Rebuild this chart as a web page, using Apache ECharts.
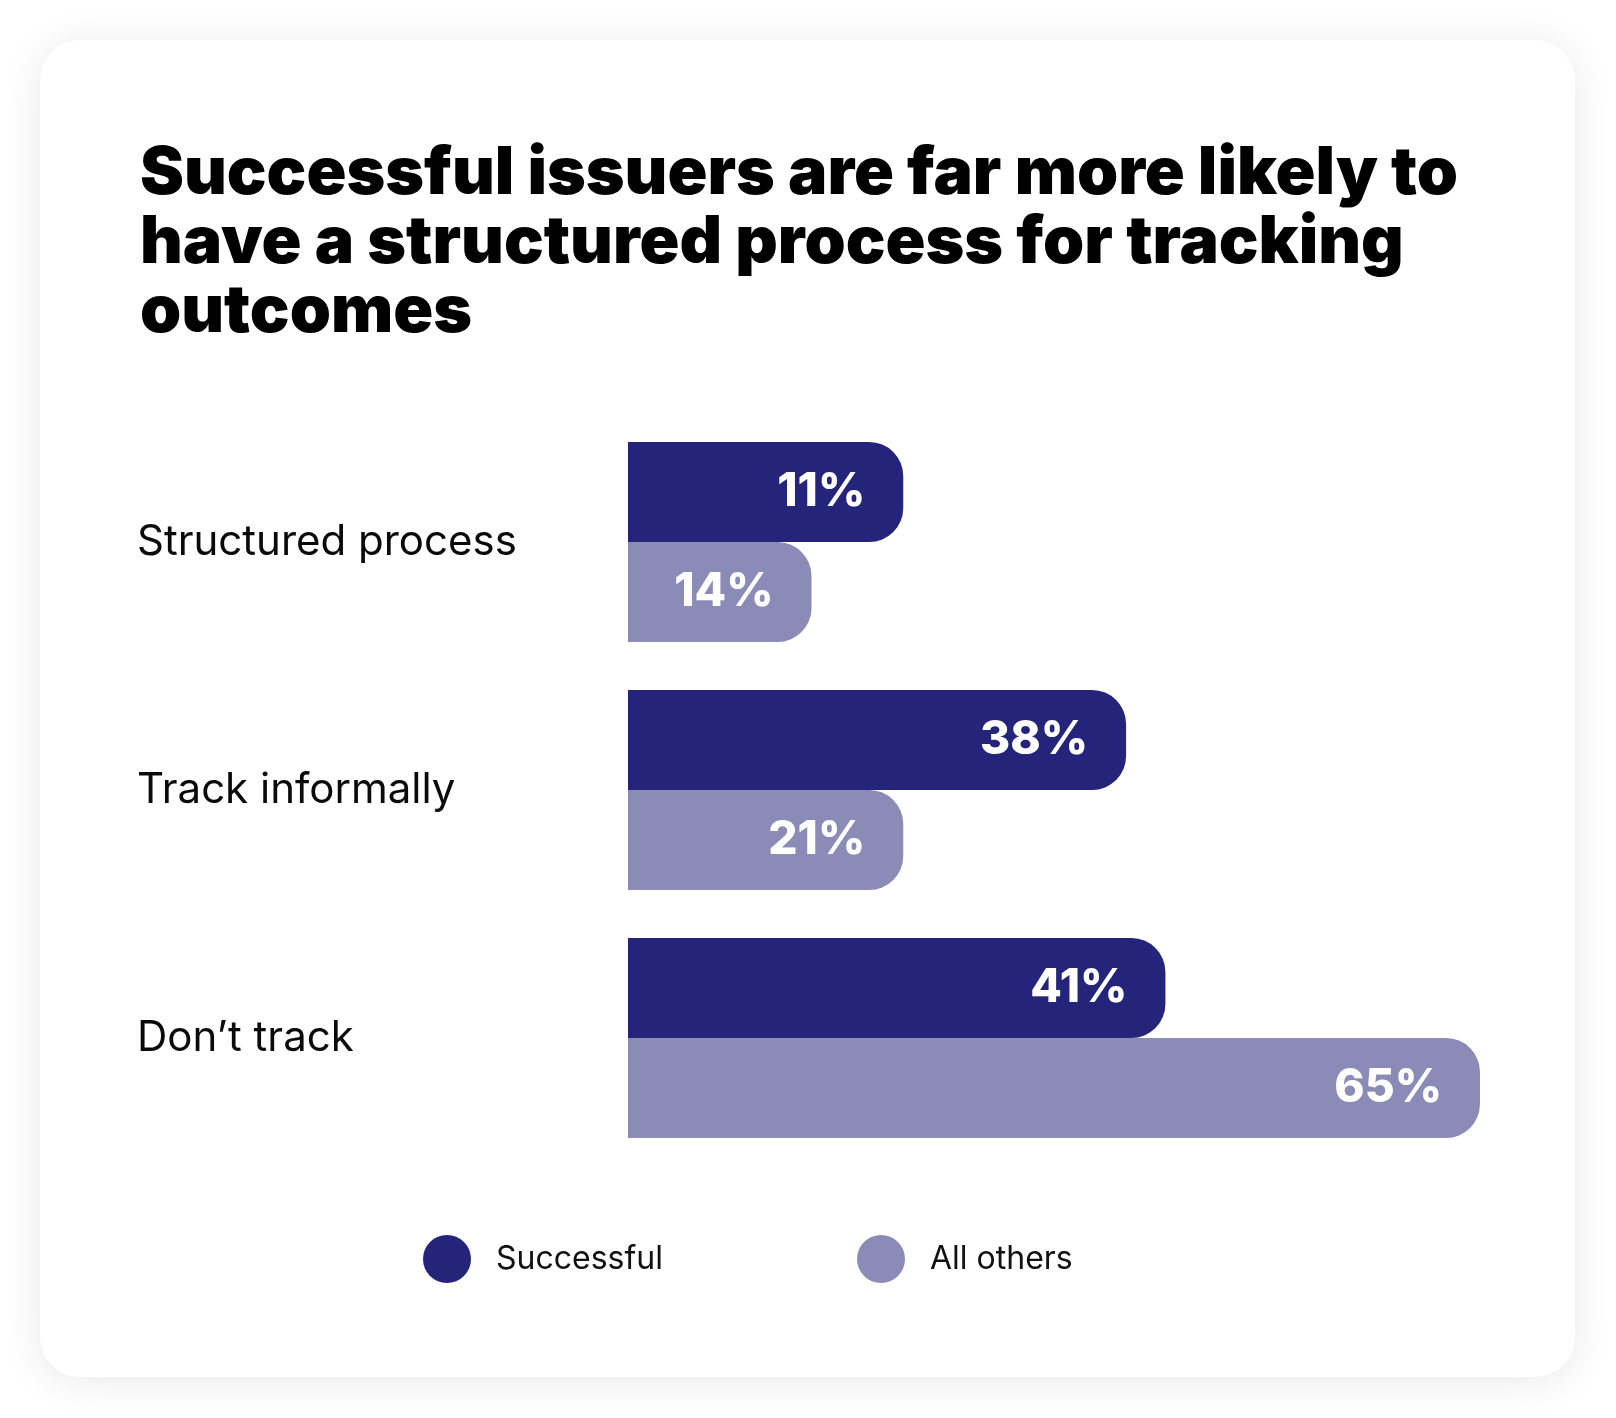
<!DOCTYPE html>
<html>
<head>
<meta charset="utf-8">
<script src="https://cdn.jsdelivr.net/npm/echarts@6/dist/echarts.min.js"></script>
<style>
  html, body { margin: 0; padding: 0; background: #ffffff; }
  #chart { width: 1616px; height: 1418px; }
</style>
</head>
<body>
<div id="chart"></div>
<script>
// ---- data ----
const titleLines = [
  'Successful issuers are far more likely to',
  'have a structured process for tracking',
  'outcomes'
];
const categories = ['Structured process', 'Track informally', 'Don\u2019t track'];
const seriesNames = ['Successful', 'All others'];
// bar lengths as drawn in the reference (the "11%" bar is drawn as long as the 21% bar)
const successfulBars = [21, 38, 41];
const successfulLabels = ['11%', '38%', '41%'];
const othersBars = [14, 21, 65];
const othersLabels = ['14%', '21%', '65%'];

const DARK = '#24247a';
const LIGHT = '#8a8bb7';
const FONT = 'Inter, "Noto Sans", sans-serif';

const chart = echarts.init(document.getElementById('chart'));

function barLabel(labels) {
  return {
    show: true,
    position: 'insideRight',
    distance: 38,
    color: '#ffffff',
    fontFamily: FONT,
    fontWeight: 800,
    fontSize: 46,
    formatter: p => labels[p.dataIndex]
  };
}

const legendBase = {
  top: 1230,
  icon: 'circle',
  itemWidth: 48,
  itemHeight: 48,
  textStyle: { fontFamily: FONT, fontSize: 32, color: '#111111', padding: [0, 0, 0, 20] }
};

chart.setOption({
  backgroundColor: '#ffffff',
  animation: false,
  graphic: [{
    type: 'rect',
    z: -10,
    shape: { x: 40, y: 40, width: 1535, height: 1337, r: 40 },
    style: { fill: '#ffffff', shadowBlur: 40, shadowColor: 'rgba(0,0,0,0.09)', shadowOffsetY: 4 }
  }],
  title: {
    text: titleLines.join('\n'),
    left: 135,
    top: 135,
    textStyle: {
      fontFamily: FONT,
      fontWeight: 900,
      fontSize: 66,
      lineHeight: 69,
      color: '#000000'
    }
  },
  legend: [
    Object.assign({ data: [seriesNames[0]], left: 418 }, legendBase),
    Object.assign({ data: [seriesNames[1]], left: 852 }, legendBase)
  ],
  grid: { left: 628, width: 852, top: 418, height: 744 },
  xAxis: { type: 'value', min: 0, max: 65, show: false },
  yAxis: {
    type: 'category',
    inverse: true,
    data: categories,
    axisLine: { show: false },
    axisTick: { show: false },
    splitLine: { show: false },
    axisLabel: {
      align: 'left',
      margin: 491,
      fontFamily: FONT,
      fontSize: 42,
      color: '#0a0a0a'
    }
  },
  series: [
    {
      name: seriesNames[0],
      type: 'bar',
      data: successfulBars,
      barWidth: 100,
      barGap: '0%',
      itemStyle: { color: DARK, borderRadius: [0, 34, 34, 0] },
      label: barLabel(successfulLabels)
    },
    {
      name: seriesNames[1],
      type: 'bar',
      data: othersBars,
      barWidth: 100,
      barGap: '0%',
      itemStyle: { color: LIGHT, borderRadius: [0, 34, 34, 0] },
      label: barLabel(othersLabels)
    }
  ]
});
</script>
</body>
</html>
